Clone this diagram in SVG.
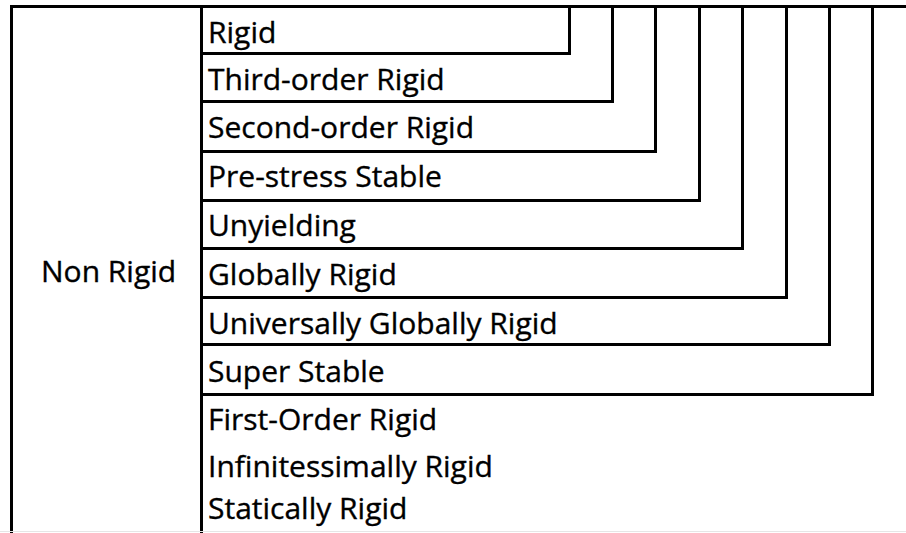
<svg xmlns="http://www.w3.org/2000/svg" width="906" height="533" viewBox="0 0 906 533">
<style>
  .ln { stroke: #000; stroke-width: 3; fill: none; stroke-linecap: square; stroke-linejoin: miter; }
  .t { font-family: "Open Sans", "Noto Sans", "Liberation Sans", sans-serif; font-size: 30px; fill: #000; stroke: #000; stroke-width: 0.35px; }
</style>
<rect x="0" y="0" width="906" height="533" fill="#fff"/>
<g id="frame">
  <path class="ln" d="M11.5,534 V6.5 H907"/>
  <path class="ln" d="M201.5,6.5 V534"/>
  <line x1="0" y1="531.5" x2="906" y2="531.5" stroke="#e6e6e6" stroke-width="1"/>
</g>
<g id="non-rigid"><text class="t" x="41" y="282">Non Rigid</text></g>
<g id="connectors">
  <path class="ln" d="M201.5,53.5 H569.5 V6.5"/>
  <path class="ln" d="M201.5,101.5 H612.5 V6.5"/>
  <path class="ln" d="M201.5,151.5 H655.5 V6.5"/>
  <path class="ln" d="M201.5,200.5 H699.5 V6.5"/>
  <path class="ln" d="M201.5,248.5 H742.5 V6.5"/>
  <path class="ln" d="M201.5,297.5 H786.5 V6.5"/>
  <path class="ln" d="M201.5,344.5 H829.5 V6.5"/>
  <path class="ln" d="M201.5,394.5 H872.5 V6.5"/>
</g>
<g id="rigid"><text class="t" x="208" y="43">Rigid</text></g>
<g id="third-order-rigid"><text class="t" x="208" y="90">Third-order Rigid</text></g>
<g id="second-order-rigid"><text class="t" x="208" y="138">Second-order Rigid</text></g>
<g id="pre-stress-stable"><text class="t" x="208" y="187">Pre-stress Stable</text></g>
<g id="unyielding"><text class="t" x="208" y="236">Unyielding</text></g>
<g id="globally-rigid"><text class="t" x="208" y="285">Globally Rigid</text></g>
<g id="universally-globally-rigid"><text class="t" x="208" y="334">Universally Globally Rigid</text></g>
<g id="super-stable"><text class="t" x="208" y="382">Super Stable</text></g>
<g id="first-order-rigid"><text class="t" x="208" y="430">First-Order Rigid</text></g>
<g id="infinitessimally-rigid"><text class="t" x="208" y="477">Infinitessimally Rigid</text></g>
<g id="statically-rigid"><text class="t" x="208" y="519">Statically Rigid</text></g>
</svg>
